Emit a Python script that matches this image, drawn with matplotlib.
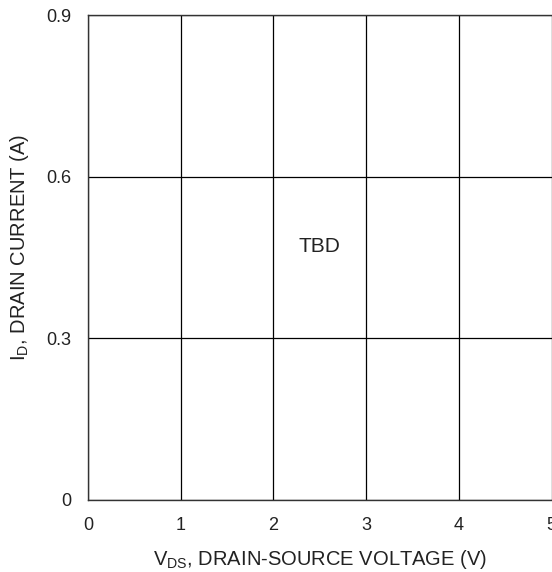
import matplotlib
matplotlib.use("Agg")
from matplotlib import pyplot as plt

plt.rcParams['font.family'] = ['Liberation Sans', 'DejaVu Sans']
plt.rcParams['mathtext.fontset'] = 'custom'
plt.rcParams['mathtext.rm'] = 'Liberation Sans'
plt.rcParams['mathtext.it'] = 'Liberation Sans'

x_ticks = [0, 1, 2, 3, 4, 5]
y_ticks = [0, 0.3, 0.6, 0.9]
y_tick_labels = ["0", "0.3", "0.6", "0.9"]
note_text = "TBD"
note_pos = (2.5, 0.47)

figure, axis = plt.subplots(figsize=(5.52, 5.72), dpi=100)
figure.subplots_adjust(left=88 / 552, right=551.5 / 552, bottom=72 / 572, top=557 / 572)

axis.set_xlim(0, 5)
axis.set_ylim(0, 0.9)
axis.set_xticks(x_ticks)
axis.set_yticks(y_ticks)
axis.set_yticklabels(y_tick_labels)
axis.tick_params(length=0, labelsize=13, colors='#222222')
axis.tick_params(axis='x', pad=12)
axis.tick_params(axis='y', pad=12)
axis.grid(True, color='black', linewidth=0.9)

for side in ['left', 'bottom', 'top']:
    axis.spines[side].set_color('#333333')
    axis.spines[side].set_linewidth(1.0)
axis.spines['right'].set_visible(False)

axis.set_xlabel(r'$\mathregular{V_{DS}}$, DRAIN-SOURCE VOLTAGE (V)', fontsize=14.5, color='#222222')
axis.set_ylabel(r'$\mathregular{I_{D}}$, DRAIN CURRENT (A)', fontsize=14.5, color='#222222')
axis.xaxis.label.set_va('baseline')
axis.yaxis.label.set_va('baseline')
axis.xaxis.set_label_coords(0.5, -0.134)
axis.yaxis.set_label_coords(-0.136, 0.522)

axis.text(note_pos[0], note_pos[1], note_text, fontsize=15, color='#222222', ha='center', va='center')

plt.savefig('out.png', dpi=100)
